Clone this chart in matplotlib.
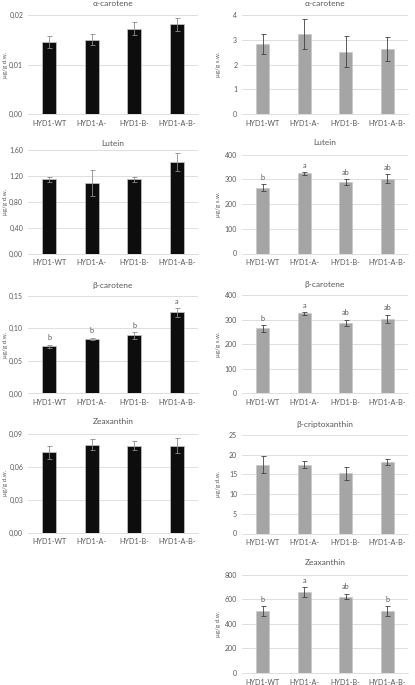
import matplotlib
matplotlib.use('Agg')
from matplotlib import pyplot as plt
from matplotlib.ticker import FuncFormatter

plt.rcParams['font.family'] = ['Lato', 'DejaVu Sans']

lines = ['HYD1-WT', 'HYD1-A-', 'HYD1-B-', 'HYD1-A-B-']

# left column, black bars
alpha_dw = [0.0146, 0.0150, 0.0172, 0.0181]
alpha_dw_err = [0.0012, 0.0011, 0.0013, 0.0013]
lutein_dw = [1.14, 1.09, 1.14, 1.41]
lutein_dw_err = [0.04, 0.20, 0.04, 0.14]
beta_dw = [0.072, 0.084, 0.089, 0.124]
beta_dw_err = [0.003, 0.0015, 0.005, 0.0065]
beta_dw_letters = ['b', 'b', 'b', 'a']
zea_dw = [0.073, 0.080, 0.079, 0.079]
zea_dw_err = [0.006, 0.005, 0.004, 0.0065]

# right column, grey bars
alpha_sw = [2.83, 3.23, 2.52, 2.63]
alpha_sw_err = [0.42, 0.60, 0.62, 0.50]
lutein_sw = [265, 324, 287, 303]
lutein_sw_err = [14, 5, 12, 18]
lutein_sw_letters = ['b', 'a', 'ab', 'ab']
beta_sw = [264, 325, 287, 302]
beta_sw_err = [14, 6, 13, 17]
beta_sw_letters = ['b', 'a', 'ab', 'ab']
cripto_dw = [17.5, 17.4, 15.3, 18.2]
cripto_dw_err = [2.1, 0.9, 1.6, 0.8]
zea_sw = [502, 659, 621, 504]
zea_sw_err = [40, 38, 22, 38]
zea_sw_letters = ['b', 'a', 'ab', 'b']

W = 415.0
H = 685.0
TXT = '#595959'
GRID = '#d9d9d9'


def comma2(v, pos):
    return ('%.2f' % v).replace('.', ',')


def plain(v, pos):
    return '%d' % round(v)


def draw_panel(fig, x0, x1, top, bottom, title_y, ylabel_x, vals, errs, ymax, step,
               title, ylabel, bar_color, err_color, fmt, letters=None):
    ax = fig.add_axes([x0 / W, 1 - bottom / H, (x1 - x0) / W, (bottom - top) / H])
    pos = range(len(vals))
    ax.bar(pos, vals, width=0.32, color=bar_color, edgecolor='#c8c8c8', linewidth=0.5, zorder=3)
    ax.errorbar(pos, vals, yerr=errs, fmt='none', ecolor=err_color, elinewidth=0.6,
                capsize=1.8, capthick=0.6, zorder=4)
    ax.set_xlim(-0.5, len(vals) - 0.5)
    ax.set_ylim(0, ymax)
    ticks = []
    t = 0.0
    while t <= ymax + step * 0.01:
        ticks.append(t)
        t += step
    ax.set_yticks(ticks)
    ax.yaxis.set_major_formatter(FuncFormatter(fmt))
    ax.set_xticks(list(pos))
    ax.set_xticklabels(lines)
    ax.tick_params(length=0, labelsize=5.2, colors=TXT, pad=4)
    ax.tick_params(axis='y', labelsize=5, pad=3.5)
    ax.grid(axis='y', color=GRID, linewidth=0.6, zorder=0)
    for s in ['top', 'right', 'left']:
        ax.spines[s].set_visible(False)
    ax.spines['bottom'].set_color(GRID)
    ax.spines['bottom'].set_linewidth(0.6)
    if letters is not None:
        for i in pos:
            ax.annotate(letters[i], (i, vals[i] + errs[i]), xytext=(0, 2.5),
                        textcoords='offset points', ha='center', va='bottom',
                        fontsize=5.2, color=TXT)
    fig.text((x0 + x1) / 2 / W, 1 - title_y / H, title, ha='center', va='center',
             fontsize=6, color=TXT)
    fig.text(ylabel_x / W, 1 - (top + bottom) / 2 / H, ylabel, rotation=90,
             ha='center', va='center', fontsize=4.5, color=TXT)
    return ax


fig = plt.figure(figsize=(W / 100, H / 100), dpi=100)

black = '#0d0d0d'
grey = '#a5a5a5'

draw_panel(fig, 28, 198, 15, 114, 4, 5, alpha_dw, alpha_dw_err, 0.02, 0.01,
           'α-carotene', 'μg/g d.w.', black, '#8c8c8c', comma2)
draw_panel(fig, 28, 198, 149.5, 253.5, 143.3, 5, lutein_dw, lutein_dw_err, 1.6, 0.4,
           'Lutein', 'μg/g d.w.', black, '#8c8c8c', comma2)
draw_panel(fig, 28, 198, 295.5, 393.5, 285, 5, beta_dw, beta_dw_err, 0.15, 0.05,
           'β-carotene', 'μg/g d.w.', black, '#8c8c8c', comma2, beta_dw_letters)
draw_panel(fig, 28, 198, 433.5, 532.5, 422, 5, zea_dw, zea_dw_err, 0.09, 0.03,
           'Zeaxanthin', 'μg/g d.w.', black, '#8c8c8c', comma2)

draw_panel(fig, 242, 408, 15, 114, 4, 218, alpha_sw, alpha_sw_err, 4, 1,
           'α-carotene', 'μg/g s.w.', grey, '#404040', plain)
draw_panel(fig, 242, 408, 154.5, 253.5, 142.7, 218, lutein_sw, lutein_sw_err, 400, 100,
           'Lutein', 'μg/g s.w.', grey, '#404040', plain, lutein_sw_letters)
draw_panel(fig, 242, 408, 295, 393.5, 284, 218, beta_sw, beta_sw_err, 400, 100,
           'β-carotene', 'μg/g s.w.', grey, '#404040', plain, beta_sw_letters)
draw_panel(fig, 242, 408, 435, 533.5, 424, 218, cripto_dw, cripto_dw_err, 25, 5,
           'β-criptoxanthin', 'μg/g d.w.', grey, '#404040', plain)
draw_panel(fig, 242, 408, 574.5, 673, 562.3, 218, zea_sw, zea_sw_err, 800, 200,
           'Zeaxanthin', 'μg/g d.w.', grey, '#404040', plain, zea_sw_letters)

fig.savefig('out.png', dpi=100)
